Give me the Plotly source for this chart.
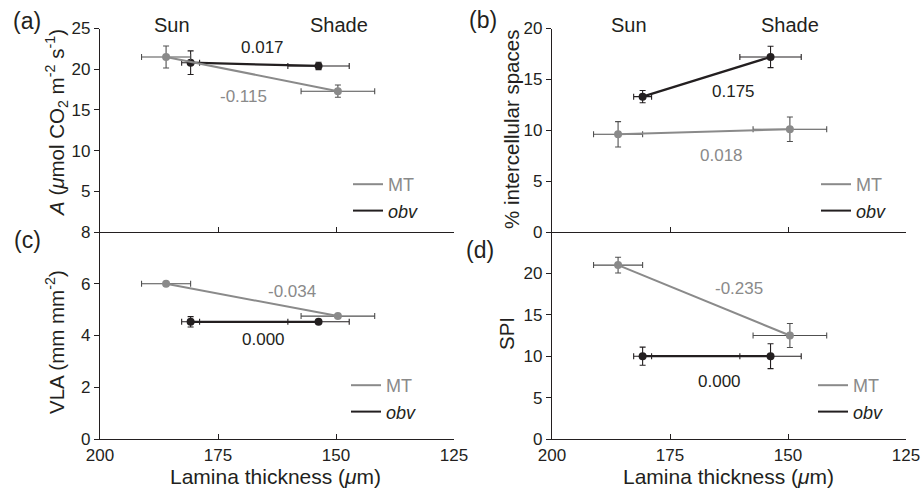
import plotly.graph_objects as go
from plotly.subplots import make_subplots

# ---------------- data ----------------
conditions = ["Sun", "Shade"]
genotypes = ["MT", "obv"]

thick_MT = [186.0, 149.6]
thick_MT_err = [5.2, 7.8]
thick_obv = [180.8, 153.7]
thick_obv_err = [1.9, 6.5]

A_MT = [21.5, 17.3]
A_MT_err = [1.35, 0.75]
A_obv = [20.8, 20.4]
A_obv_err = [1.45, 0.45]

IAS_MT = [9.6, 10.1]
IAS_MT_err = [1.25, 1.2]
IAS_obv = [13.3, 17.2]
IAS_obv_err = [0.6, 1.05]

VLA_MT = [6.0, 4.75]
VLA_MT_err = [0.04, 0.06]
VLA_obv = [4.53, 4.53]
VLA_obv_err = [0.2, 0.05]

SPI_MT = [21.0, 12.5]
SPI_MT_err = [0.95, 1.45]
SPI_obv = [10.0, 10.0]
SPI_obv_err = [1.1, 1.5]

slopes_MT = ["-0.115", "0.018", "-0.034", "-0.235"]
slopes_obv = ["0.017", "0.175", "0.000", "0.000"]

x_ticks = [200, 175, 150, 125]

# ---------------- style ----------------
FONT = "Liberation Sans, Arial, sans-serif"
GRAY = "#8a8a8a"
GRAY_ERR = "#505050"
BLACK = "#231f20"
W, H = 924, 495

fig = make_subplots(rows=2, cols=2)

panels = [
    (1, 1, A_MT, A_MT_err, A_obv, A_obv_err, "legend"),
    (1, 2, IAS_MT, IAS_MT_err, IAS_obv, IAS_obv_err, "legend2"),
    (2, 1, VLA_MT, VLA_MT_err, VLA_obv, VLA_obv_err, "legend3"),
    (2, 2, SPI_MT, SPI_MT_err, SPI_obv, SPI_obv_err, "legend4"),
]

for (r, c, ymt, ymt_e, yob, yob_e, lg) in panels:
    fig.add_trace(go.Scatter(
        x=thick_obv, y=yob, mode="lines+markers",
        line=dict(color=BLACK, width=2.2),
        marker=dict(color=BLACK, size=8),
        error_x=dict(type="data", array=thick_obv_err, color=BLACK, thickness=1.1, width=3),
        error_y=dict(type="data", array=yob_e, color=BLACK, thickness=1.1, width=3),
        showlegend=False, text=conditions, hoverinfo="x+y+text"), row=r, col=c)
    fig.add_trace(go.Scatter(
        x=thick_MT, y=ymt, mode="lines+markers",
        line=dict(color=GRAY, width=2),
        marker=dict(color=GRAY, size=8),
        error_x=dict(type="data", array=thick_MT_err, color=GRAY_ERR, thickness=1.1, width=3),
        error_y=dict(type="data", array=ymt_e, color=GRAY_ERR, thickness=1.1, width=3),
        showlegend=False, text=conditions, hoverinfo="x+y+text"), row=r, col=c)
    fig.add_trace(go.Scatter(
        x=[None], y=[None], mode="lines", line=dict(color=GRAY, width=2),
        name="<span style='color:%s'>MT</span>" % GRAY, legend=lg), row=r, col=c)
    fig.add_trace(go.Scatter(
        x=[None], y=[None], mode="lines", line=dict(color=BLACK, width=2),
        name="<i>obv</i>", legend=lg), row=r, col=c)

# ---------------- axes ----------------
xdom_left = [100 / W, 454 / W]
xdom_right = [552 / W, 906 / W]
ydom_top = [1 - 232 / H, 1 - 28.5 / H]
ydom_bot = [1 - 439 / H, 1 - 232 / H]

axis_common = dict(showline=True, linecolor=BLACK, linewidth=1.2, showgrid=False,
                   zeroline=False, tickcolor=BLACK, ticklen=5, tickwidth=1.2,
                   automargin=False,
                   tickfont=dict(family=FONT, size=17, color=BLACK))

for i, (xd, yd, top) in enumerate([(xdom_left, ydom_top, True), (xdom_right, ydom_top, True),
                                   (xdom_left, ydom_bot, False), (xdom_right, ydom_bot, False)]):
    k = "" if i == 0 else str(i + 1)
    fig.layout["xaxis" + k].update(domain=xd, range=[200, 125], tickvals=x_ticks,
                                   ticks="inside", showticklabels=not top, **axis_common)
    fig.layout["yaxis" + k].update(domain=yd, ticks="outside", **axis_common)

fig.layout.yaxis.update(range=[0, 25], tickvals=[5, 10, 15, 20, 25])
fig.layout.yaxis2.update(range=[0, 20], tickvals=[0, 5, 10, 15, 20])
fig.layout.yaxis3.update(range=[0, 8], tickvals=[0, 2, 4, 6, 8])
fig.layout.yaxis4.update(range=[0, 25], tickvals=[0, 5, 10, 15, 20])

# ---------------- annotations ----------------
ann = []

def txt(x, y, s, size, color=BLACK, xref="paper", yref="paper", angle=0):
    ann.append(dict(x=x, y=y, xref=xref, yref=yref, text=s, showarrow=False,
                    textangle=angle, xanchor="center", yanchor="middle",
                    font=dict(family=FONT, size=size, color=color)))

# panel letters
txt(27 / W, 1 - 21 / H, "(a)", 23)
txt(483 / W, 1 - 20 / H, "(b)", 23)
txt(27 / W, 1 - 240 / H, "(c)", 23)
txt(480 / W, 1 - 250 / H, "(d)", 23)

# Sun / Shade
for xr, sx in (("x", [184.8, 149.4]), ("x2", [183.6, 149.6])):
    for cond, xv in zip(conditions, sx):
        txt(xv, 1.017, cond, 20, xref=xr, yref=("y" if xr == "x" else "y2") + " domain")

# slopes
slope_pos_MT = [("x", "y", 169.7, 16.7), ("x2", "y2", 164.0, 7.55),
                ("x3", "y3", 159.4, 5.7), ("x4", "y4", 160.3, 18.2)]
slope_pos_obv = [("x", "y", 165.5, 22.7), ("x2", "y2", 161.6, 13.8),
                 ("x3", "y3", 165.3, 3.85), ("x4", "y4", 164.6, 6.95)]
for (xr, yr, xv, yv), s in zip(slope_pos_MT, slopes_MT):
    txt(xv, yv, s, 17, GRAY, xref=xr, yref=yr)
for (xr, yr, xv, yv), s in zip(slope_pos_obv, slopes_obv):
    txt(xv, yv, s, 17, BLACK, xref=xr, yref=yr)

# axis titles
txt(56 / W, 1 - 123 / H,
    "<i>A</i> (<i>μ</i>mol CO<sub>2</sub> m<sup>-2</sup> s<sup>-1</sup>)", 20.5, angle=-90)
txt(511 / W, 1 - 129 / H, "% intercellular spaces", 20.5, angle=-90)
txt(55 / W, 1 - 342 / H, "VLA (mm mm<sup>-2</sup>)", 20.5, angle=-90)
txt(506 / W, 1 - 334 / H, "SPI", 20.5, angle=-90)
txt(275 / W, 1 - 476 / H, "Lamina thickness (<i>μ</i>m)", 21)
txt(728 / W, 1 - 476 / H, "Lamina thickness (<i>μ</i>m)", 21)

fig.update_layout(annotations=ann)

leg_common = dict(bgcolor="rgba(0,0,0,0)", font=dict(family=FONT, size=18, color=BLACK),
                  xanchor="left", yanchor="top", itemwidth=30, tracegroupgap=0)
fig.update_layout(
    legend=dict(x=348 / W, y=1 - 166 / H, **leg_common),
    legend2=dict(x=816 / W, y=1 - 166 / H, **leg_common),
    legend3=dict(x=346 / W, y=1 - 367 / H, **leg_common),
    legend4=dict(x=813 / W, y=1 - 367 / H, **leg_common),
)

fig.update_layout(width=W, height=H,
                  margin=dict(l=0, r=0, t=0, b=0, autoexpand=False),
                  paper_bgcolor="white", plot_bgcolor="white",
                  font=dict(family=FONT, color=BLACK))

fig.write_html("out.html", config={"displayModeBar": False},
               post_script="document.body.style.margin='0px';document.body.style.overflow='hidden';")
